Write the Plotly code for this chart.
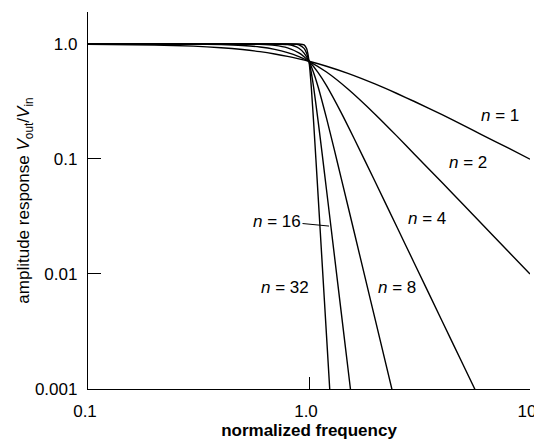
import math
import plotly.graph_objects as go

# Butterworth low-pass amplitude response
freq_n1 = [0.1, 0.2, 0.3, 0.4, 0.5, 0.6, 0.7, 0.8, 0.9, 1.0, 1.2, 1.5, 2.0, 2.5, 3.0, 4.0, 5.0, 6.0, 8.0, 10.0]
amp_n1 = [0.995, 0.981, 0.958, 0.928, 0.894, 0.857, 0.819, 0.781, 0.743, 0.707, 0.640, 0.555, 0.447, 0.371, 0.316, 0.243, 0.196, 0.164, 0.124, 0.0995]

freq_n2 = [0.1, 0.2, 0.3, 0.4, 0.5, 0.6, 0.7, 0.8, 0.9, 1.0, 1.2, 1.5, 2.0, 2.5, 3.0, 4.0, 5.0, 6.0, 8.0, 10.0]
amp_n2 = [1.0, 0.9992, 0.996, 0.9875, 0.970, 0.941, 0.898, 0.842, 0.777, 0.707, 0.570, 0.406, 0.243, 0.158, 0.110, 0.0624, 0.0400, 0.0278, 0.0156, 0.0100]

freq_n4 = [0.1, 0.3, 0.5, 0.6, 0.7, 0.8, 0.9, 0.95, 1.0, 1.1, 1.2, 1.4, 1.6, 2.0, 2.5, 3.0, 4.0, 5.0, 6.0]
amp_n4 = [1.0, 1.0, 0.998, 0.9917, 0.9724, 0.9254, 0.8361, 0.7753, 0.7071, 0.564, 0.4344, 0.2519, 0.1508, 0.0624, 0.0256, 0.01235, 0.003906, 0.0016, 0.000772]

freq_n8 = [0.1, 0.5, 0.6, 0.7, 0.8, 0.85, 0.9, 0.95, 1.0, 1.05, 1.1, 1.2, 1.3, 1.4, 1.6, 1.8, 2.0, 2.5]
amp_n8 = [1.0, 1.0, 0.99986, 0.99834, 0.9862, 0.9647, 0.9184, 0.8333, 0.7071, 0.5605, 0.4228, 0.2265, 0.1217, 0.0676, 0.02328, 0.009076, 0.003906, 0.000655]

freq_n16 = [0.1, 0.7, 0.8, 0.85, 0.9, 0.95, 0.975, 1.0, 1.025, 1.05, 1.1, 1.15, 1.2, 1.3, 1.4, 1.5, 1.6]
amp_n16 = [1.0, 1.0, 0.9996, 0.99725, 0.9833, 0.9152, 0.8320, 0.7071, 0.5587, 0.4165, 0.2127, 0.1063, 0.0540, 0.01503, 0.00459, 0.001522, 0.000542]

freq_n32 = [0.1, 0.8, 0.85, 0.9, 0.95, 0.975, 0.99, 1.0, 1.01, 1.025, 1.05, 1.075, 1.1, 1.15, 1.2, 1.25]
amp_n32 = [1.0, 1.0, 0.99998, 0.99941, 0.9818, 0.9137, 0.8096, 0.7071, 0.5882, 0.4132, 0.2054, 0.0984, 0.0473, 0.01142, 0.002925, 0.000793]

series = [
    ("n = 1", freq_n1, amp_n1),
    ("n = 2", freq_n2, amp_n2),
    ("n = 4", freq_n4, amp_n4),
    ("n = 8", freq_n8, amp_n8),
    ("n = 16", freq_n16, amp_n16),
    ("n = 32", freq_n32, amp_n32),
]

y_tick_vals = [1.0, 0.1, 0.01, 0.001]
y_tick_text = ["1.0", "0.1", "0.01", "0.001"]
x_tick_vals = [0.1, 1.0, 10]
x_tick_text = ["0.1", "1.0", "10"]

fig = go.Figure()
for name, fx, fy in series:
    fig.add_trace(go.Scatter(
        x=fx, y=fy, mode="lines", name=name,
        line=dict(color="black", width=1.4, shape="spline", smoothing=0.6),
        showlegend=False, hoverinfo="skip",
    ))

FONT = "Liberation Sans, Arial, Helvetica, sans-serif"
label_font = dict(family=FONT, size=17, color="black")

# curve labels: (text, frequency, amplitude) positions
labels = [
    ("<i>n</i> = 1", 7.31, 0.241),
    ("<i>n</i> = 2", 5.24, 0.0923),
    ("<i>n</i> = 4", 3.42, 0.0301),
    ("<i>n</i> = 8", 2.50, 0.0076),
    ("<i>n</i> = 32", 0.78, 0.0077),
]
for txt, fx, fy in labels:
    fig.add_annotation(x=math.log10(fx), y=math.log10(fy), text=txt, showarrow=False,
                       font=label_font, xanchor="center", yanchor="middle")

fig.add_annotation(x=math.log10(1.232), y=math.log10(0.0261), text="<i>n</i> = 16",
                   showarrow=True, arrowhead=0, arrowwidth=1, arrowcolor="black",
                   ax=-52, ay=-5, font=label_font, xanchor="center", yanchor="middle")

fig.update_xaxes(
    type="log", range=[-1, 1], automargin=False,
    tickvals=x_tick_vals, ticktext=x_tick_text,
    ticks="inside", ticklen=12, tickcolor="black", tickwidth=1,
    showline=True, linecolor="black", linewidth=1.3,
    showgrid=False, zeroline=False,
    tickfont=dict(family=FONT, size=17, color="black"),
    ticklabelstandoff=6, ticklabeloverflow="allow", ticklabelshift=-3,
    title=dict(text="<b>normalized frequency</b>", font=dict(family=FONT, size=17, color="black"), standoff=10),
)
fig.update_yaxes(
    type="log", range=[-3, 0.278], automargin=False,
    tickvals=y_tick_vals, ticktext=y_tick_text,
    ticks="inside", ticklen=13, tickcolor="black", tickwidth=1,
    showline=True, linecolor="black", linewidth=1.3,
    showgrid=False, zeroline=False,
    tickfont=dict(family=FONT, size=17, color="black"),
    ticklabelstandoff=6,
    title=dict(text="amplitude response <i>V</i><sub>out</sub>/<i>V</i><sub>in</sub>",
               font=dict(family=FONT, size=17, color="black"), standoff=0),
)

# page body adds an 8px offset, so the figure is 8px smaller than the window
fig.update_layout(
    width=534, height=432,
    margin=dict(l=80, r=12, t=4, b=51),
    paper_bgcolor="white", plot_bgcolor="white",
)

fig.write_html("out.html")
